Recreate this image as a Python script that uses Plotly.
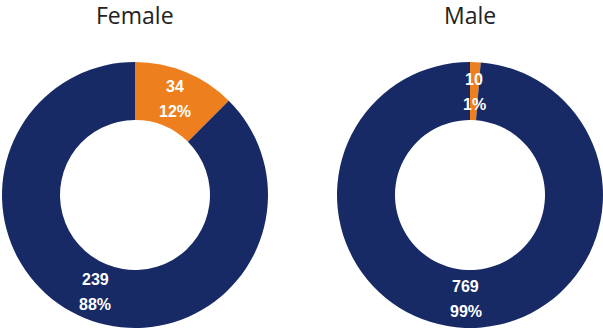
import math
import plotly.graph_objects as go

# Survey counts by gender
groups = ["Female", "Male"]
segment_names = ["Yes", "No"]
female_counts = [34, 239]
male_counts = [10, 769]

colors = ["#EE7F1E", "#172A66"]

W, H = 603, 330
# pie placement in pixels: center x, center y (from top), outer radius
centers = [(135, 195), (470, 195)]
R_OUT, R_IN = 133, 75

fig = go.Figure()
annotations = []

for name, counts, (cx, cy) in zip(groups, [female_counts, male_counts], centers):
    x0 = (cx - R_OUT) / W
    x1 = (cx + R_OUT) / W
    y0 = (H - cy - R_OUT) / H
    y1 = (H - cy + R_OUT) / H
    fig.add_trace(go.Pie(
        labels=segment_names,
        values=counts,
        hole=R_IN / R_OUT,
        sort=False,
        direction="clockwise",
        rotation=0,
        marker=dict(colors=colors, line=dict(width=0)),
        textinfo="none",
        hoverinfo="label+value+percent",
        domain=dict(x=[max(x0, 0), min(x1, 1)], y=[y0, y1]),
        showlegend=False,
    ))

    # value and percentage labels at the middle of each ring segment
    total = sum(counts)
    cum = 0
    r_mid = (R_OUT + R_IN) / 2
    for v in counts:
        mid = (cum + v / 2) / total
        cum += v
        theta = 2 * math.pi * mid
        px = cx + r_mid * math.sin(theta)
        py = cy - r_mid * math.cos(theta)
        pct = round(100 * v / total)
        for txt, shift in [(str(v), 12), (f"{pct}%", -13)]:
            annotations.append(dict(
                x=px / W, y=(H - py) / H, xref="paper", yref="paper",
                xanchor="center", yanchor="middle",
                text=f"<b>{txt}</b>", showarrow=False, yshift=shift,
                font=dict(family="Liberation Sans, Arial", size=16, color="white"),
            ))

    annotations.append(dict(
        x=cx / W, y=(H - 15) / H, xref="paper", yref="paper",
        xanchor="center", yanchor="middle",
        text=name, showarrow=False,
        font=dict(family="Open Sans", size=23, color="#222222"),
    ))

fig.update_layout(
    width=W, height=H,
    margin=dict(l=0, r=0, t=0, b=0),
    paper_bgcolor="white",
    plot_bgcolor="white",
    annotations=annotations,
)

fig.write_html("out.html")
